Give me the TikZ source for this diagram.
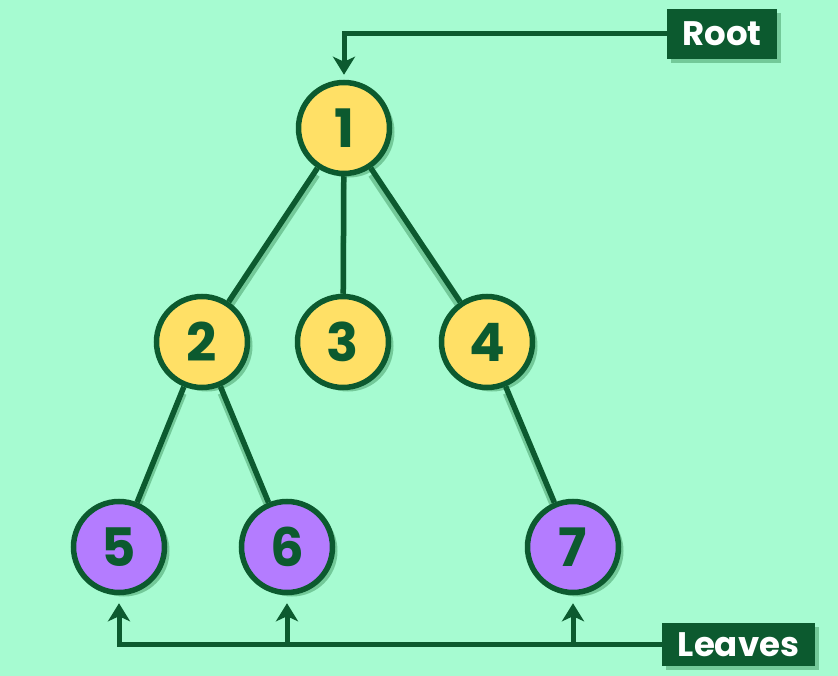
\documentclass[tikz,border=0pt]{standalone}
\usepackage{fontspec}
\setmainfont{Poppins}
\usepackage{tikz}
\usetikzlibrary{arrows.meta, shadows, backgrounds}
\definecolor{treebg}{HTML}{A6FBD1}
\definecolor{treegreen}{HTML}{0C5A2F}
\definecolor{treeshade}{HTML}{73C999}
\definecolor{treeyellow}{HTML}{FFE066}
\definecolor{treepurple}{HTML}{B47CFF}

\begin{document}
\begin{tikzpicture}[x=1pt, y=-1pt, every node/.style={font=\bfseries},
    knot/.style={circle, draw=treegreen, line width=5.5pt, minimum size=91pt, inner sep=0pt,
      text=treegreen, font=\fontsize{53}{53}\bfseries\selectfont,
      drop shadow={shadow xshift=5pt, shadow yshift=-4pt, fill=treeshade, opacity=1}},
    midknot/.style={knot, fill=treeyellow},
    leafknot/.style={knot, fill=treepurple},
    tag/.style={fill=treegreen, text=white, inner sep=0pt, font=\fontsize{34}{34}\bfseries\selectfont,
      drop shadow={shadow xshift=4pt, shadow yshift=-4pt, fill=treeshade, opacity=1}},
    branch/.style={treegreen, line width=5.5pt},
    pointer/.style={treegreen, line width=5pt, -{Stealth[length=18pt, width=22pt, inset=5pt]}}]
  \useasboundingbox (0,0) rectangle (838,676);
  % tree
  \node[midknot] (n1) at (344,128) {1};
  \node[midknot] (n2) at (202,342) {2};
  \node[midknot] (n3) at (343,342) {3};
  \node[midknot] (n4) at (487,342) {4};
  \node[leafknot] (n5) at (119,547) {5};
  \node[leafknot] (n6) at (287,547) {6};
  \node[leafknot] (n7) at (573,547) {7};
  \foreach \a/\b in {n1/n2, n1/n3, n1/n4, n2/n5, n2/n6, n4/n7}
    \draw[branch] (\a) -- (\b);
  \begin{scope}[on background layer]
    \fill[treebg] (0,0) rectangle (838,676);
    \foreach \a/\b in {n1/n2, n1/n3, n1/n4, n2/n5, n2/n6, n4/n7}
      \draw[branch, treeshade, transform canvas={shift={(0pt,-7pt)}}] (\a) -- (\b);
  \end{scope}
  % labels
  \node[tag, minimum width=110pt, minimum height=50pt] (root) at (722,34) {Root};
  \node[tag, minimum width=153pt, minimum height=43pt] (leaves) at (738.5,644.5) {Leaves};
  \draw[pointer, shorten >=5pt] (root.west) -| (n1.north);
  \draw[pointer, shorten >=8pt] (leaves.west) -| (n5.south);
  \draw[pointer, shorten >=8pt] (n6 |- leaves.west) -- (n6.south);
  \draw[pointer, shorten >=8pt] (n7 |- leaves.west) -- (n7.south);
\end{tikzpicture}
\end{document}
